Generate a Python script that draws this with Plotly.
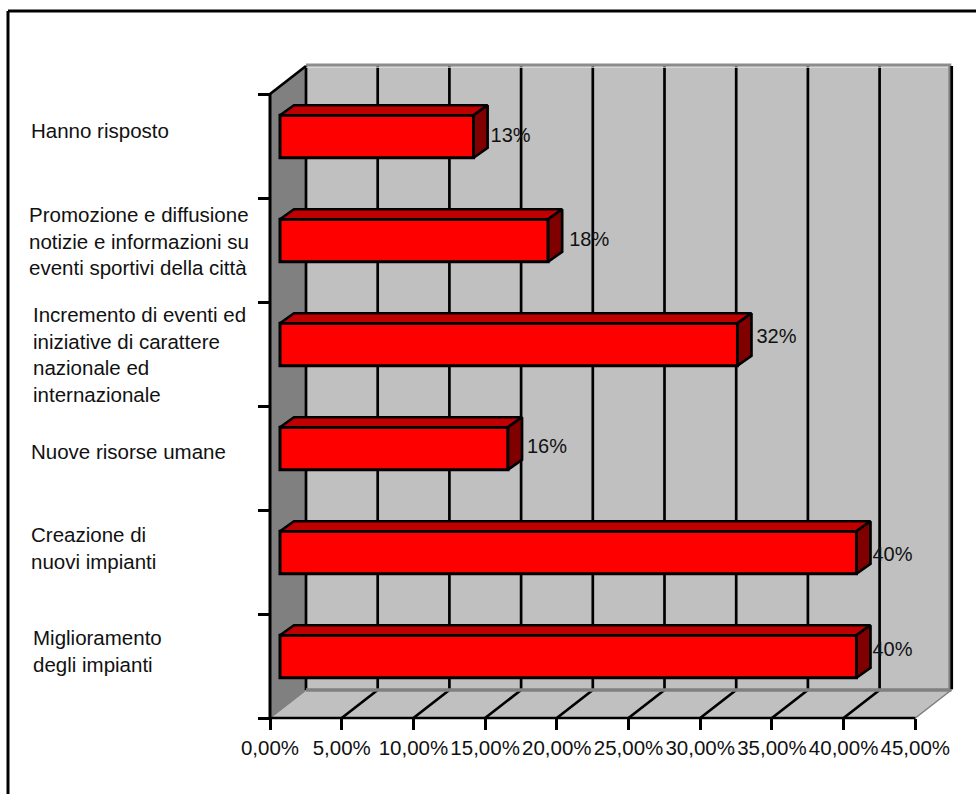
import plotly.graph_objects as go

# ---- data (bottom to top) ----
categories = [
    "Miglioramento<br>degli impianti",
    "Creazione di<br>nuovi impianti",
    "Nuove risorse umane",
    "Incremento di eventi ed<br>iniziative di carattere<br>nazionale ed<br>internazionale",
    "Promozione e diffusione<br>notizie e informazioni su<br>eventi sportivi della città",
    "Hanno risposto",
]
values = [40.2, 40.2, 15.9, 31.9, 18.7, 13.5]
value_labels = ["40%", "40%", "16%", "32%", "18%", "13%"]
x_ticks = [0, 5, 10, 15, 20, 25, 30, 35, 40, 45]
x_tick_labels = ["0,00%", "5,00%", "10,00%", "15,00%", "20,00%",
                 "25,00%", "30,00%", "35,00%", "40,00%", "45,00%"]

# ---- layout geometry ----
W, H = 976, 794
PX_X = 14.34     # pixels per percent
PX_Y = 104.0     # pixels per category band
LEFT, BOTTOM = 270, 718
FONT = "Liberation Sans, Arial, sans-serif"
TXT = "#111111"

x_range = [-LEFT / PX_X, (W - LEFT) / PX_X]
y_range = [-0.5 - (H - BOTTOM) / PX_Y, -0.5 + BOTTOM / PX_Y]
n = len(categories)
y_lo, y_hi = -0.5, n - 0.5
x_hi = x_ticks[-1]

# depth of the box and of the bars, in axis units
box_dx, box_dy = 36 / PX_X, 28 / PX_Y
bar_base = 10 / PX_X
bar_shift = 9.5 / PX_Y
bar_width = 42.5 / PX_Y
bar_dx, bar_dy = 14 / PX_X, 10 / PX_Y
line_w = 2.7


def poly(points):
    return "M " + " L ".join(f"{x},{y}" for x, y in points) + " Z"


def seg(x0, y0, x1, y1, color="black", width=line_w, layer="below"):
    return dict(type="line", xref="x", yref="y", x0=x0, y0=y0, x1=x1, y1=y1,
                line=dict(color=color, width=width), layer=layer)


shapes = [
    # back wall
    dict(type="path", xref="x", yref="y", layer="below", fillcolor="#C0C0C0",
         line=dict(color="rgba(0,0,0,0)", width=0),
         path=poly([(box_dx, y_lo + box_dy), (x_hi + box_dx, y_lo + box_dy),
                    (x_hi + box_dx, y_hi + box_dy), (box_dx, y_hi + box_dy)])),
    # floor
    dict(type="path", xref="x", yref="y", layer="below", fillcolor="#C0C0C0",
         line=dict(color="#808080", width=1.5),
         path=poly([(0, y_lo), (x_hi, y_lo), (x_hi + box_dx, y_lo + box_dy),
                    (box_dx, y_lo + box_dy)])),
    # side wall
    dict(type="path", xref="x", yref="y", layer="below", fillcolor="#808080",
         line=dict(color="#808080", width=1),
         path=poly([(0, y_lo), (box_dx, y_lo + box_dy), (box_dx, y_hi + box_dy),
                    (0, y_hi)])),
]
# grid on wall and floor
for t in x_ticks[:-1]:
    shapes.append(seg(t + box_dx, y_lo + box_dy, t + box_dx, y_hi + box_dy))
    if t > 0:
        shapes.append(seg(t, y_lo, t + box_dx, y_lo + box_dy))
# wall edges
shapes += [
    seg(box_dx, y_hi + box_dy + 0.01, x_hi + box_dx, y_hi + box_dy + 0.01, "#8C8C8C", 3),
    seg(box_dx, y_hi + box_dy - 0.012, x_hi + box_dx - 0.1, y_hi + box_dy - 0.012, "#E0E0E0", 1),
    seg(box_dx, y_lo + box_dy, x_hi + box_dx, y_lo + box_dy, "#808080", 3.5),
    seg(x_hi + box_dx - 0.1, y_lo + box_dy, x_hi + box_dx - 0.1, y_hi + box_dy, "#808080", 3),
    seg(x_hi + box_dx + 0.03, y_lo + box_dy + 0.01, x_hi + box_dx + 0.03, y_hi + box_dy, "black", 2.7),
    seg(0, y_hi, box_dx, y_hi + box_dy),
    # axis lines
    seg(0, y_lo, 0, y_hi, "black", 3),
    seg(0, y_lo, x_hi, y_lo, "black", 2.7),
    # frame
    dict(type="line", xref="paper", yref="paper", x0=8 / W, x1=8 / W,
         y0=0, y1=1 - 11 / H, line=dict(color="black", width=3)),
    dict(type="line", xref="paper", yref="paper", x0=8 / W, x1=1,
         y0=1 - 11 / H, y1=1 - 11 / H, line=dict(color="black", width=3)),
]

fig = go.Figure()

bar_y = [i + bar_shift for i in range(n)]
fig.add_trace(go.Bar(
    orientation="h", y=bar_y, x=values, base=bar_base, width=bar_width,
    marker=dict(color="#FF0000", line=dict(color="black", width=3)),
    hoverinfo="skip",
))

# 3D faces of the bars, derived from the same values
top_x, top_y, side_x, side_y = [], [], [], []
for yc, v in zip(bar_y, values):
    x0, x1 = bar_base, bar_base + v
    y0, y1 = yc - bar_width / 2, yc + bar_width / 2
    top_x += [x0, x1, x1 + bar_dx, x0 + bar_dx, x0, None]
    top_y += [y1, y1, y1 + bar_dy, y1 + bar_dy, y1, None]
    side_x += [x1, x1 + bar_dx, x1 + bar_dx, x1, x1, None]
    side_y += [y0, y0 + bar_dy, y1 + bar_dy, y1, y0, None]
fig.add_trace(go.Scatter(x=top_x, y=top_y, mode="lines", fill="toself",
                         fillcolor="#C00000", hoverinfo="skip",
                         line=dict(color="black", width=line_w)))
fig.add_trace(go.Scatter(x=side_x, y=side_y, mode="lines", fill="toself",
                         fillcolor="#800000", hoverinfo="skip",
                         line=dict(color="black", width=line_w)))

# value labels: small per-label nudges (pixels) as in the reference
label_dx = [2, 2, 5, 5, 7, 3]
label_dy = [-6, 3, -0.5, -6.5, 0.5, 0.5]
fig.add_trace(go.Scatter(
    x=[bar_base + v + bar_dx + dx / PX_X for v, dx in zip(values, label_dx)],
    y=[yc - dy / PX_Y for yc, dy in zip(bar_y, label_dy)],
    mode="text", text=value_labels, textposition="middle right",
    textfont=dict(family=FONT, size=20, color=TXT), hoverinfo="skip",
))

# category labels: left edge and vertical centre, pixels
label_left = [31, 29, 29, 31, 27, 29]
label_mid = [651, 548, 451, 354, 241, 130]
annotations = [
    dict(text=c, xref="paper", yref="paper", x=l / W, y=1 - m / H,
         xanchor="left", yanchor="middle", align="left", showarrow=False,
         font=dict(family=FONT, size=20.5, color=TXT))
    for c, l, m in zip(categories, label_left, label_mid)
]

fig.update_layout(
    width=W, height=H, margin=dict(l=0, r=0, t=0, b=0),
    paper_bgcolor="white", plot_bgcolor="white", showlegend=False,
    shapes=shapes, annotations=annotations,
    font=dict(family=FONT, size=19.5, color=TXT),
    xaxis=dict(range=x_range, domain=[0, 1], anchor="free", position=(H - BOTTOM) / H,
               tickmode="array", tickvals=x_ticks, ticktext=x_tick_labels,
               ticks="outside", ticklen=11, tickwidth=2.7, tickcolor="black",
               tickangle=0, showgrid=False, zeroline=False, showline=False,
               tickfont=dict(family=FONT, size=20.5, color=TXT)),
    yaxis=dict(range=y_range, domain=[0, 1], anchor="free", position=LEFT / W,
               tickmode="array", tickvals=[i - 0.5 for i in range(n + 1)],
               ticktext=[""] * (n + 1), ticks="outside", ticklen=12, tickwidth=2.7,
               tickcolor="black", showgrid=False, zeroline=False, showline=False),
)

fig.write_html("out.html", config=dict(displayModeBar=False),
               post_script="document.body.style.margin='0';document.documentElement.style.overflow='hidden';")
